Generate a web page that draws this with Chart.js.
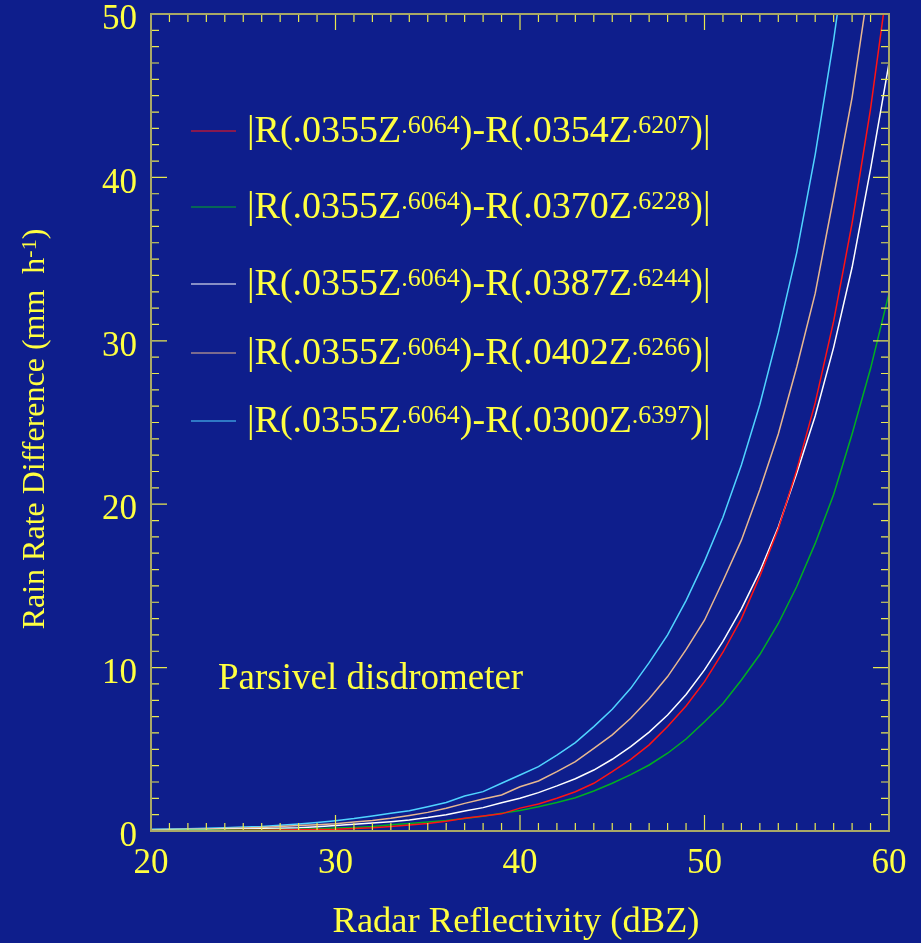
<!DOCTYPE html>
<html>
<head>
<meta charset="utf-8">
<script src="https://cdn.jsdelivr.net/npm/chart.js@4.4.1/dist/chart.umd.min.js"></script>
<style>
  html, body { margin: 0; padding: 0; background: #0e1e8c; }
  #wrap { width: 921px; height: 943px; }
</style>
</head>
<body>
<div id="wrap"><canvas id="c" width="921" height="943"></canvas></div>
<script>
// radar reflectivity (dBZ), one point per dBZ
var dbz = [20, 21, 22, 23, 24, 25, 26, 27, 28, 29,
           30, 31, 32, 33, 34, 35, 36, 37, 38, 39,
           40, 41, 42, 43, 44, 45, 46, 47, 48, 49,
           50, 51, 52, 53, 54, 55, 56, 57, 58, 59, 60];

// |R(.0355Z^.6064) - R(other)| (mm/h)
var diff_0354 = [0.01, 0.01, 0.02, 0.02, 0.03, 0.04, 0.05, 0.06, 0.08, 0.09,
                 0.10, 0.15, 0.20, 0.28, 0.36, 0.46, 0.60, 0.78, 0.92, 1.05,
                 1.40, 1.65, 2.00, 2.40, 2.92, 3.63, 4.39, 5.27, 6.39, 7.65,
                 9.14, 10.94, 13.0, 15.6, 18.5, 22.1, 26.2, 31.2, 37.2, 44.2, 52.5];
var diff_0370 = [0.03, 0.03, 0.04, 0.05, 0.06, 0.07, 0.08, 0.09, 0.10, 0.14,
                 0.18, 0.22, 0.27, 0.38, 0.46, 0.55, 0.64, 0.76, 0.90, 1.08,
                 1.25, 1.49, 1.75, 2.04, 2.45, 2.92, 3.45, 4.04, 4.76, 5.63,
                 6.69, 7.80, 9.24, 10.8, 12.7, 14.96, 17.6, 20.6, 24.3, 28.3, 32.9];
var diff_0387 = [0.05, 0.06, 0.07, 0.08, 0.10, 0.12, 0.14, 0.17, 0.20, 0.26,
                 0.33, 0.41, 0.49, 0.57, 0.67, 0.82, 1.00, 1.22, 1.43, 1.73,
                 2.00, 2.35, 2.76, 3.20, 3.73, 4.39, 5.16, 6.05, 7.10, 8.35,
                 9.86, 11.6, 13.6, 15.9, 18.6, 21.9, 25.4, 29.6, 34.5, 40.5, 47.0];
var diff_0402 = [0.08, 0.09, 0.11, 0.13, 0.15, 0.18, 0.22, 0.27, 0.33, 0.39,
                 0.45, 0.55, 0.65, 0.78, 0.95, 1.14, 1.39, 1.69, 1.96, 2.20,
                 2.71, 3.06, 3.63, 4.24, 5.06, 5.88, 6.90, 8.10, 9.45, 11.1,
                 12.9, 15.3, 17.8, 20.9, 24.3, 28.4, 32.9, 38.8, 44.9, 52.5, 61.0];
var diff_0300 = [0.10, 0.12, 0.14, 0.17, 0.20, 0.24, 0.28, 0.35, 0.43, 0.52,
                 0.63, 0.76, 0.92, 1.08, 1.24, 1.49, 1.75, 2.14, 2.41, 2.92,
                 3.43, 3.94, 4.65, 5.41, 6.39, 7.45, 8.73, 10.3, 12.0, 14.1,
                 16.5, 19.2, 22.4, 26.1, 30.5, 35.4, 41.4, 48.4, 56.5, 66.0, 77.0];

// legend coefficients: |R(.0355Z^.6064)-R(coef Z^expo)|
var base_coef = '.0355';
var base_expo = '.6064';
var other_coef = ['.0354', '.0370', '.0387', '.0402', '.0300'];
var other_expo = ['.6207', '.6228', '.6244', '.6266', '.6397'];
var series_colors = ['#ff1414', '#00b020', '#ffffff', '#e8b890', '#50d4ff'];
var series_values = [diff_0354, diff_0370, diff_0387, diff_0402, diff_0300];

var y_ticks = [0, 10, 20, 30, 40, 50];
var x_ticks = [20, 30, 40, 50, 60];

var serif = '"Liberation Serif", "Times New Roman", serif';
var yellow = '#ffff40';

function draw_rich(ctx, parts, x, y, size) {
  // parts: [text, is_superscript]
  var sup = Math.round(size * 0.68);
  parts.forEach(function(p) {
    ctx.font = (p[1] ? sup : size) + 'px ' + serif;
    ctx.fillText(p[0], x, p[1] ? y - size * 0.24 : y);
    x += ctx.measureText(p[0]).width;
  });
  return x;
}

function rich_width(ctx, parts, size) {
  var sup = Math.round(size * 0.68);
  var w = 0;
  parts.forEach(function(p) {
    ctx.font = (p[1] ? sup : size) + 'px ' + serif;
    w += ctx.measureText(p[0]).width;
  });
  return w;
}

var bg_plugin = {
  id: 'bg',
  beforeDraw: function(chart) {
    var ctx = chart.ctx;
    ctx.save();
    ctx.fillStyle = '#0e1e8c';
    ctx.fillRect(0, 0, chart.width, chart.height);
    ctx.restore();
  }
};

var frame_plugin = {
  id: 'frame',
  afterDraw: function(chart) {
    var ctx = chart.ctx;
    var a = chart.chartArea;
    var xs = chart.scales.x;
    var ys = chart.scales.y;
    ctx.save();

    // inward ticks on all four sides
    ctx.strokeStyle = '#e8e850';
    ctx.lineWidth = 1.2;
    for (var d = 21; d < 60; d++) {
      var px = xs.getPixelForValue(d);
      var len = (d % 10 == 0) ? 16 : 8;
      ctx.beginPath();
      ctx.moveTo(px, a.bottom); ctx.lineTo(px, a.bottom - len);
      ctx.moveTo(px, a.top); ctx.lineTo(px, a.top + len);
      ctx.stroke();
    }
    for (var v = 1; v < 50; v++) {
      var py = ys.getPixelForValue(v);
      var len2 = (v % 10 == 0) ? 16 : 8;
      ctx.beginPath();
      ctx.moveTo(a.left, py); ctx.lineTo(a.left + len2, py);
      ctx.moveTo(a.right, py); ctx.lineTo(a.right - len2, py);
      ctx.stroke();
    }

    // frame
    ctx.strokeStyle = '#a8a866';
    ctx.lineWidth = 2;
    ctx.strokeRect(a.left, a.top, a.right - a.left, a.bottom - a.top);

    ctx.fillStyle = yellow;
    ctx.textBaseline = 'alphabetic';

    // legend
    var rows = [131, 207, 284, 353, 421];
    for (var i = 0; i < other_coef.length; i++) {
      ctx.strokeStyle = series_colors[i];
      ctx.lineWidth = 1.2;
      ctx.beginPath();
      ctx.moveTo(191, rows[i]);
      ctx.lineTo(236, rows[i]);
      ctx.stroke();
      draw_rich(ctx, [
        ['|R(' + base_coef + 'Z', false], [base_expo, true],
        [')-R(' + other_coef[i] + 'Z', false], [other_expo[i], true],
        [')|', false]
      ], 247, rows[i] + 11, 38);
    }

    // annotation
    ctx.font = '37px ' + serif;
    ctx.textAlign = 'left';
    ctx.fillText('Parsivel disdrometer', 218, 689);

    // x title
    ctx.font = '36.5px ' + serif;
    ctx.textAlign = 'center';
    ctx.fillText('Radar Reflectivity (dBZ)', 516, 932);

    // y title
    ctx.textAlign = 'left';
    var yt = [['Rain Rate Difference (mm  h', false], ['-1', true], [')', false]];
    var w = rich_width(ctx, yt, 32);
    ctx.translate(44, 429);
    ctx.rotate(-Math.PI / 2);
    draw_rich(ctx, yt, -w / 2, 0, 32);

    ctx.restore();
  }
};

var datasets = series_values.map(function(vals, i) {
  return {
    label: other_coef[i],
    data: vals.map(function(v, j) { return {x: dbz[j], y: v}; }),
    borderColor: series_colors[i],
    backgroundColor: 'rgba(0,0,0,0)',
    borderWidth: 1.5,
    pointRadius: 0,
    tension: 0,
    clip: 0
  };
});

var ctx = document.getElementById('c');
window.myChart = new Chart(ctx, {
  type: 'line',
  data: { datasets: datasets },
  options: {
    responsive: false,
    animation: false,
    layout: { padding: { top: 14, right: 32, left: 0, bottom: 0 } },
    plugins: {
      legend: { display: false },
      tooltip: { enabled: false }
    },
    scales: {
      x: {
        type: 'linear',
        min: 20,
        max: 60,
        afterBuildTicks: function(scale) {
          scale.ticks = x_ticks.map(function(v) { return {value: v}; });
        },
        afterFit: function(scale) {
          scale.height = 112;
          scale.paddingLeft = 0;
          scale.paddingRight = 0;
        },
        grid: { display: false, drawTicks: false },
        border: { display: false },
        ticks: {
          color: yellow,
          padding: 12,
          maxRotation: 0,
          font: { family: serif, size: 35 }
        }
      },
      y: {
        type: 'linear',
        min: 0,
        max: 50,
        afterBuildTicks: function(scale) {
          scale.ticks = y_ticks.map(function(v) { return {value: v}; });
        },
        afterFit: function(scale) {
          scale.width = 151;
          scale.paddingTop = 0;
          scale.paddingBottom = 0;
        },
        grid: { display: false, drawTicks: false },
        border: { display: false },
        ticks: {
          color: yellow,
          padding: 14,
          labelOffset: 6,
          font: { family: serif, size: 35 }
        }
      }
    }
  },
  plugins: [bg_plugin, frame_plugin]
});
</script>
</body>
</html>
